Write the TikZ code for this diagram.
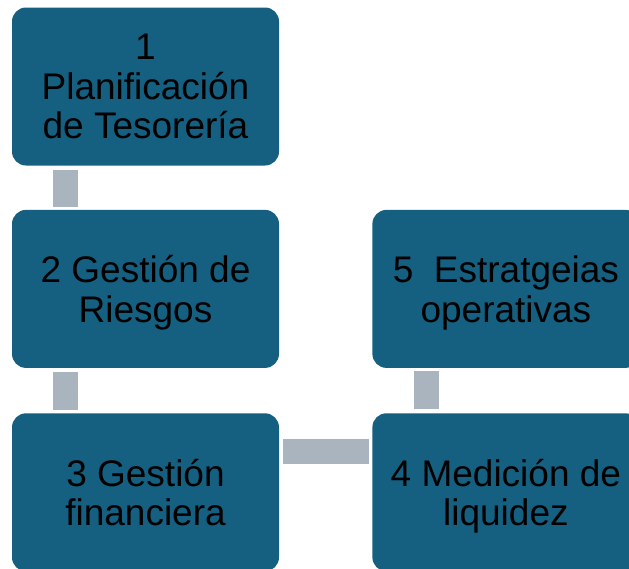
\documentclass[tikz,border=0pt]{standalone}
\usepackage{fontspec}
\setmainfont{Liberation Sans}
\usetikzlibrary{positioning}
\definecolor{boxblue}{HTML}{155F80}
\definecolor{bargray}{HTML}{A9B4BE}
\tikzset{
	stepbox/.style={fill=boxblue, rounded corners=14pt, minimum width=267pt, minimum height=158pt,
		inner sep=2pt, align=center, text=black, text depth=0pt, font=\fontsize{37}{39.5}\selectfont},
	bar/.style={draw=bargray, line width=25pt, shorten <=4pt, shorten >=3pt}
}
\begin{document}
\begin{tikzpicture}[x=1pt, y=1pt, node distance=45pt and 93pt]
		\useasboundingbox (0,0) rectangle (629,-568);
		\clip (0,0) rectangle (629,-568);
		\node[stepbox](A) at (145.5,-86.5) {1\\Planificación\\de Tesorería};
		\node[stepbox](B)[below=44pt of A] {2 Gestión de\\Riesgos};
		\node[stepbox](C)[below=of B] {3 Gestión\\financiera};
		\node[stepbox](D)[right=of C] {4 Medición de\\liquidez};
		\node[stepbox](E)[right=of B] {5~~Estratgeias\\operativas};
		\draw[bar] ([xshift=53.5pt]A.south west) -- ([xshift=53.5pt]B.north west);
		\draw[bar] ([xshift=53.5pt]B.south west) -- ([xshift=53.5pt]C.north west);
		\draw[bar] ([yshift=40.5pt]C.east) -- ([yshift=40.5pt]D.west);
		\draw[bar] ([xshift=54.5pt]D.north west) -- ([xshift=54.5pt]E.south west);
\end{tikzpicture}
\end{document}
